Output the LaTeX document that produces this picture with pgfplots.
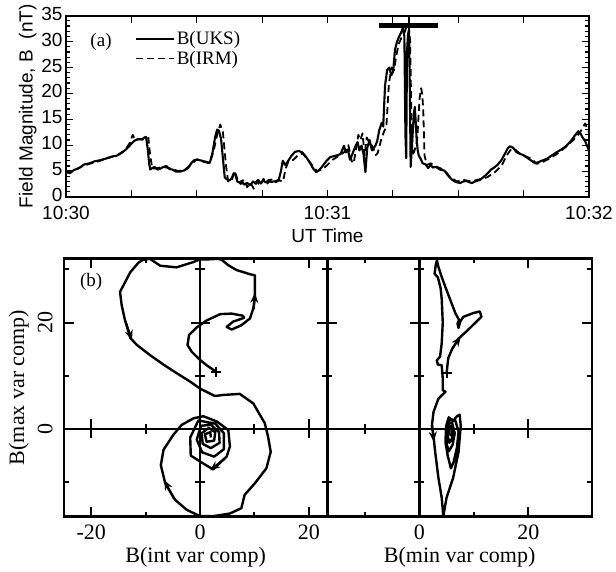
\documentclass[border=0pt]{standalone}
\usepackage{fontspec}
\setmainfont{Liberation Serif}
\setsansfont{Liberation Sans}
\usepackage{pgfplots}
\pgfplotsset{compat=1.18}
\usetikzlibrary{arrows.meta}
\newcommand\sfs{\sffamily\fontsize{19}{19}\selectfont}
\newcommand\rmt{\rmfamily\fontsize{22}{22}\selectfont}
\newcommand\rml{\rmfamily\fontsize{22}{22}\selectfont}
\newcommand\rmg{\rmfamily\fontsize{19}{21}\selectfont}
\begin{document}
\begin{tikzpicture}[x=1pt,y=1pt]
\path[use as bounding box] (0,0) rectangle (616,-571);
% ---------------- (a) ----------------
\begin{axis}[at={(66pt,-197pt)}, anchor=south west, scale only axis,
  width=523pt, height=181.3pt,
  xmin=0, xmax=2, ymin=0, ymax=35,
  axis line style={line width=2.2pt},
  xtick={0,0.25,...,2}, xticklabels={10:30,,,,10:31,,,,10:32},
  ytick={0,5,...,35}, yticklabels={0,5,10,15,20,25,30,35},
  minor ytick={1,2,3,4,6,7,8,9,11,12,13,14,16,17,18,19,21,22,23,24,26,27,28,29,31,32,33,34},
  tick align=inside, xtick pos=both, ytick pos=both,
  major tick length=7pt, minor tick length=4pt,
  every tick/.append style={line width=1.2pt, black},
  tick label style={font=\sfs},
  xticklabel shift=6pt,
  yticklabel style={yshift=2pt},
  xlabel={UT Time}, ylabel={Field Magnitude, B\ \ (nT)},
  label style={font=\sfs},
  xlabel style={yshift=-2pt},
  ylabel style={yshift=-2pt},
  legend style={at={(axis cs:0.262,32.4)}, anchor=north west, draw=none, fill=none,
    font=\rmg, inner sep=0pt, row sep=1pt, cells={anchor=west}},
  legend image code/.code={\draw[#1] (0pt,0pt) -- (38pt,0pt);},
  clip=false]
\addplot[line width=2.1pt, line join=round] coordinates {
(0.000,4.8)(0.015,4.6)(0.030,5.2)(0.050,5.6)(0.070,6.3)(0.090,6.5)(0.110,6.9)(0.130,7.1)
(0.151,7.4)(0.175,7.8)(0.196,8.0)(0.215,8.6)(0.230,9.2)(0.245,10.0)(0.260,10.8)(0.275,11.2)
(0.290,11.1)(0.300,11.5)(0.306,11.6)(0.312,9.5)(0.318,6.5)(0.322,5.3)(0.330,5.6)(0.339,5.8)
(0.350,5.3)(0.362,5.5)(0.372,5.8)(0.384,6.0)(0.395,5.4)(0.407,5.3)(0.420,4.9)(0.437,4.9)
(0.455,5.2)(0.467,5.6)(0.480,6.6)(0.490,7.1)(0.505,7.2)(0.520,7.0)(0.535,6.8)(0.550,6.6)
(0.560,8.5)(0.570,11.5)(0.578,13.0)(0.585,12.8)(0.593,11.2)(0.600,7.5)(0.607,3.8)(0.615,3.4)
(0.625,3.2)(0.633,3.6)(0.642,4.6)(0.648,4.3)(0.655,3.0)(0.663,2.8)(0.672,3.1)(0.680,2.4)
(0.693,2.7)(0.705,2.3)(0.715,3.0)(0.723,2.7)(0.735,3.3)(0.745,2.6)(0.754,3.2)(0.765,2.8)
(0.775,3.3)(0.784,2.9)(0.795,3.0)(0.805,3.1)(0.814,3.4)(0.822,5.0)(0.829,7.0)(0.838,6.2)
(0.845,6.6)(0.860,7.8)(0.875,8.7)(0.890,8.9)(0.904,8.6)(0.920,7.6)(0.934,6.5)(0.945,5.5)
(0.957,4.8)(0.968,5.2)(0.980,5.9)(0.995,6.9)(1.010,7.7)(1.025,7.9)(1.040,8.1)(1.050,8.3)
(1.063,9.9)(1.070,8.6)(1.078,9.2)(1.086,7.2)(1.093,8.0)(1.105,9.6)(1.115,10.6)(1.122,9.0)
(1.130,9.9)(1.138,8.2)(1.145,4.8)(1.152,9.5)(1.161,11.0)(1.170,9.0)(1.183,9.9)(1.190,10.8)
(1.198,12.9)(1.207,14.3)(1.213,13.6)(1.220,21.5)(1.228,24.5)(1.236,25.0)(1.244,23.5)(1.251,24.2)
(1.258,28.4)(1.266,30.0)(1.274,31.0)(1.282,31.8)(1.289,32.8)(1.294,31.0)(1.298,12.0)(1.301,7.5)
(1.304,28.0)(1.308,31.5)(1.312,32.3)(1.315,20.0)(1.318,5.8)(1.322,9.0)(1.326,12.5)(1.330,16.0)
(1.334,17.4)(1.338,14.0)(1.341,11.0)(1.345,9.0)(1.349,8.0)(1.355,7.5)(1.364,6.5)(1.375,6.3)
(1.385,5.6)(1.395,6.2)(1.402,5.7)(1.415,5.8)(1.430,5.3)(1.447,5.1)(1.460,4.2)(1.477,3.3)
(1.490,2.9)(1.507,2.7)(1.520,3.0)(1.530,3.1)(1.540,2.9)(1.552,2.7)(1.565,3.0)(1.583,3.3)
(1.600,4.0)(1.613,4.6)(1.625,5.3)(1.635,5.6)(1.650,6.2)(1.665,7.1)(1.678,8.3)(1.688,9.3)
(1.697,9.8)(1.710,9.5)(1.722,8.7)(1.733,8.4)(1.748,8.1)(1.763,7.6)(1.780,7.0)(1.794,6.5)
(1.810,6.8)(1.824,7.1)(1.840,7.4)(1.854,7.9)(1.875,8.6)(1.895,9.2)(1.914,9.9)(1.930,10.8)
(1.945,11.8)(1.959,12.7)(1.968,12.2)(1.974,11.6)(1.985,10.8)(2.000,9.0)};
\addlegendentry{B(UKS)}
\addplot[line width=1.8pt, dash pattern=on 7pt off 4pt, line join=round] coordinates {
(0.000,5.0)(0.030,5.0)(0.060,5.9)(0.090,6.4)(0.130,7.0)(0.160,7.5)(0.196,8.1)(0.225,9.0)
(0.245,10.5)(0.255,12.0)(0.265,11.0)(0.285,11.2)(0.300,11.0)(0.315,11.4)(0.322,8.0)(0.330,5.5)
(0.345,5.5)(0.365,5.8)(0.385,5.7)(0.405,5.4)(0.430,5.0)(0.455,5.3)(0.480,6.3)(0.500,7.3)
(0.525,6.8)(0.550,6.5)(0.565,9.0)(0.578,12.0)(0.590,14.0)(0.600,12.5)(0.612,6.0)(0.620,3.0)
(0.632,3.0)(0.645,5.0)(0.655,3.5)(0.668,2.5)(0.680,3.4)(0.693,1.9)(0.705,2.8)(0.718,1.6)
(0.730,3.0)(0.742,2.2)(0.755,3.5)(0.770,2.6)(0.785,3.4)(0.800,2.8)(0.815,3.2)(0.830,3.0)
(0.840,5.5)(0.850,6.8)(0.870,7.2)(0.890,8.2)(0.905,8.4)(0.925,7.2)(0.945,5.9)(0.960,5.0)
(0.980,5.3)(1.000,6.2)(1.020,7.2)(1.045,8.0)(1.065,8.7)(1.080,10.0)(1.092,7.0)(1.100,6.5)
(1.110,9.5)(1.118,12.0)(1.126,11.0)(1.134,12.3)(1.142,8.0)(1.150,11.5)(1.160,10.5)(1.172,9.8)
(1.185,8.1)(1.192,8.5)(1.205,11.0)(1.215,12.5)(1.225,13.5)(1.235,22.0)(1.245,25.0)(1.255,24.5)
(1.262,27.0)(1.272,29.5)(1.285,31.0)(1.295,31.8)(1.303,33.0)(1.310,33.2)(1.316,30.0)(1.320,18.0)
(1.325,8.0)(1.333,9.0)(1.343,11.0)(1.352,19.0)(1.358,21.0)(1.362,20.0)(1.366,17.0)(1.371,8.0)
(1.380,6.2)(1.395,6.5)(1.410,6.0)(1.430,5.6)(1.450,5.0)(1.470,3.8)(1.495,3.0)(1.520,3.3)
(1.550,3.0)(1.580,3.4)(1.610,3.8)(1.640,4.8)(1.665,6.0)(1.685,8.0)(1.700,9.1)(1.715,9.3)
(1.735,8.4)(1.755,7.9)(1.780,7.4)(1.800,6.4)(1.825,6.8)(1.855,7.6)(1.880,8.4)(1.910,9.6)
(1.940,11.0)(1.965,12.4)(1.985,14.2)(2.000,12.5)};
\addlegendentry{B(IRM)}
\addplot[line width=4.5pt, forget plot] coordinates {(1.198,33.1)(1.424,33.1)};
\addplot[line width=1.4pt, forget plot] coordinates {(1.311,35)(1.311,31.5)};
\node[font=\rmg, anchor=center] at (axis cs:0.134,29.9) {(a)};
\end{axis}
% ---------------- (b) left ----------------
\begin{axis}[at={(64pt,-516.7pt)}, anchor=south west, scale only axis,
  width=263.3pt, height=258.4pt,
  xmin=-25, xmax=23.4, ymin=-16.5, ymax=32.1,
  axis line style={line width=2.6pt},
  xtick={-20,0,20}, xticklabels={-20,0,20}, minor xtick={-10,10},
  ytick={0,20}, yticklabels={0,20}, minor ytick={-10,10,30},
  tick align=inside, xtick pos=both, ytick pos=both,
  major tick length=10pt, minor tick length=5pt,
  every tick/.append style={line width=2pt, black},
  tick label style={font=\rmt},
  yticklabel style={rotate=90, anchor=south},
  yticklabel shift=8pt, xticklabel shift=5pt,
  xlabel={B(int var comp)}, ylabel={B(max var comp)},
  label style={font=\rml},
  ylabel style={yshift=2pt},
  clip=false]
\addplot[line width=2.4pt, line join=round] coordinates {
(2.9,10.8)(1.2,12.0)(0,13.0)(-1.5,14.5)(-2.3,15.8)(-2.0,17.7)(-0.6,19.1)(1.2,20.4)(3.7,21.6)
(5.8,21.7)(7.9,21.3)(8.1,20.9)(6.1,20.2)(4.9,19.2)(5.8,18.7)(7.6,19.5)(9.2,20.8)(9.8,22.7)
(10.1,24.9)(10.1,28.9)(9.2,29.1)(6.7,29.9)(5.2,30.8)(4.0,31.8)(3.4,32.0)(1.5,31.9)(0,31.9)
(-1.2,31.4)(-4.3,30.4)(-7.3,30.7)(-9.2,32.0)(-10.5,31.8)(-11.3,31.3)(-12.8,29.5)(-14.7,25.8)
(-14.4,23.3)(-13.8,20.5)(-12.8,17.1)(-11.6,15.8)(-9.2,13.9)(-6.7,12.1)(-4.3,10.5)(-1.8,8.9)
(0,7.6)(2.75,6.2)(4.3,6.4)(7.3,6.6)(9.8,4.8)(11.9,1.1)(12.5,-1.4)(13.0,-4.3)(12.2,-7.4)
(10.1,-10.2)(8.2,-12.4)(7.6,-14.9)(5.5,-15.9)(2.4,-16.4)(0,-16.4)(-2.45,-15.2)(-4.6,-13.3)
(-6.4,-10.2)(-7.2,-6.8)(-6.7,-3.9)(-4.9,-1.1)(-3.4,0.75)(-1.2,2.0)(0.6,2.4)(3.1,1.4)(5.2,-0.2)
(5.5,-3.3)(4.9,-5.2)(2.4,-7.6)(0.3,-6.3)(-1.7,-5.0)(-1.8,-1.6)(-0.3,1.6)(2.8,1.0)(4.4,-0.8)
(4.4,-3.8)(2.6,-5.2)(0.4,-4.4)(-0.6,-2.0)(0.2,0.6)(2.0,0.8)(3.5,-0.6)(3.6,-2.6)(2.0,-3.6)
(0.5,-2.8)(0.3,-0.8)(1.6,0.2)(2.8,-0.6)(2.6,-2.2)(1.2,-2.4)(0.9,-1.0)(1.9,-0.6)(2.0,-1.6)};
\addplot[line width=2pt, -{Stealth[length=10pt,width=8pt]}] coordinates {(9.9,22.5)(10.1,25.6)};
\addplot[line width=2pt, -{Stealth[length=10pt,width=8pt]}] coordinates {(-13.7,20.3)(-12.5,16.7)};
\addplot[line width=2pt, -{Stealth[length=10pt,width=8pt]}] coordinates {(-4.8,-13.1)(-6.6,-9.6)};
\addplot[line width=2pt, -{Stealth[length=10pt,width=8pt]}] coordinates {(4.9,-5.2)(1.9,-7.8)};
\addplot[only marks, mark=+, mark size=5pt, line width=2pt] coordinates {(2.9,10.8)};
\node[font=\rmg] at (axis cs:-20.0,27.6) {(b)};
\end{axis}
\begin{axis}[at={(64pt,-516.7pt)}, anchor=south west, scale only axis,
  width=263.3pt, height=258.4pt,
  xmin=-25, xmax=23.4, ymin=-16.5, ymax=32.1,
  axis lines=middle, axis line style={line width=2.4pt, -},
  xtick={-20,20}, minor xtick={-10,10}, ytick={20}, minor ytick={-10,10,30},
  xticklabels={}, yticklabels={},
  tick align=center, major tick length=19pt, minor tick length=10pt,
  every tick/.append style={line width=2pt, black}]
\end{axis}
% ---------------- (b) right ----------------
\begin{axis}[at={(327.3pt,-516.7pt)}, anchor=south west, scale only axis,
  width=264.7pt, height=258.4pt,
  xmin=-16.9, xmax=31.7, ymin=-16.5, ymax=32.1,
  axis line style={line width=2.6pt},
  xtick={0,20}, xticklabels={0,20}, minor xtick={-10,10},
  ytick={0,20}, yticklabels={}, minor ytick={-10,10,30},
  tick align=inside, xtick pos=both, ytick pos=both,
  major tick length=10pt, minor tick length=5pt,
  every tick/.append style={line width=2pt, black},
  tick label style={font=\rmt},
  xticklabel shift=5pt,
  xlabel={B(min var comp)},
  label style={font=\rml},
  clip=false]
\addplot[line width=2.4pt, line join=round] coordinates {
(5.0,10.5)(5.3,13.3)(6.0,15.0)(7.2,17.0)(8.9,18.6)(10.5,20.2)(11.4,21.1)(11.1,22.1)(9.9,21.8)
(8.1,21.1)(7.5,20.2)(7.2,19.0)(7.0,19.8)(7.3,20.5)(6.6,21.8)(6.2,22.9)(5.0,26.1)(4.1,28.6)
(3.5,30.5)(3.2,31.8)(3.3,32.0)(3.0,30.8)(2.8,29.2)(3.4,28.5)(3.9,26.5)(4.1,24.5)(4.3,20.0)
(4.1,16.1)(3.8,13.6)(3.2,12.9)(3.4,12.1)(4.1,12.0)(4.3,9.5)(4.3,7.3)(4.8,7.0)(3.5,5.7)
(2.6,3.2)(2.3,0.6)(2.6,-1.3)(2.9,-4.3)(3.5,-9.2)(4.1,-12.9)(4.4,-16.4)(5.0,-12.9)(6.2,-9.2)
(7.2,-4.3)(7.6,0.6)(7.4,2.7)(6.9,2.4)(6.2,1.5)(5.4,2.2)(4.9,0.5)(4.8,-2.5)(5.2,-5.0)(5.8,-7.4)
(6.3,-6.2)(6.9,-3.5)(7.2,-0.5)(6.6,1.6)(5.6,1.9)(5.0,0)(5.0,-2.8)(5.4,-4.2)(6.1,-3.0)(6.5,-0.8)
(6.0,1.2)(5.3,1.0)(5.2,-1.2)(5.5,-2.6)(6.0,-1.8)(6.1,0.2)(5.6,0.6)(5.5,-0.9)(5.9,-1.2)};
\addplot[line width=2pt, -{Stealth[length=10pt,width=8pt]}] coordinates {(5.9,14.9)(7.6,17.4)};
\addplot[line width=2pt, -{Stealth[length=10pt,width=8pt]}] coordinates {(2.35,0.8)(2.65,-2.4)};
\addplot[only marks, mark=+, mark size=5pt, line width=2pt] coordinates {(5.0,10.5)};
\end{axis}
\begin{axis}[at={(327.3pt,-516.7pt)}, anchor=south west, scale only axis,
  width=264.7pt, height=258.4pt,
  xmin=-16.9, xmax=31.7, ymin=-16.5, ymax=32.1,
  axis lines=middle, axis line style={line width=2.4pt, -},
  xtick={-20,20}, minor xtick={-10,10}, ytick={20}, minor ytick={-10,10,30},
  xticklabels={}, yticklabels={},
  tick align=center, major tick length=19pt, minor tick length=10pt,
  every tick/.append style={line width=2pt, black}]
\end{axis}
\end{tikzpicture}
\end{document}
